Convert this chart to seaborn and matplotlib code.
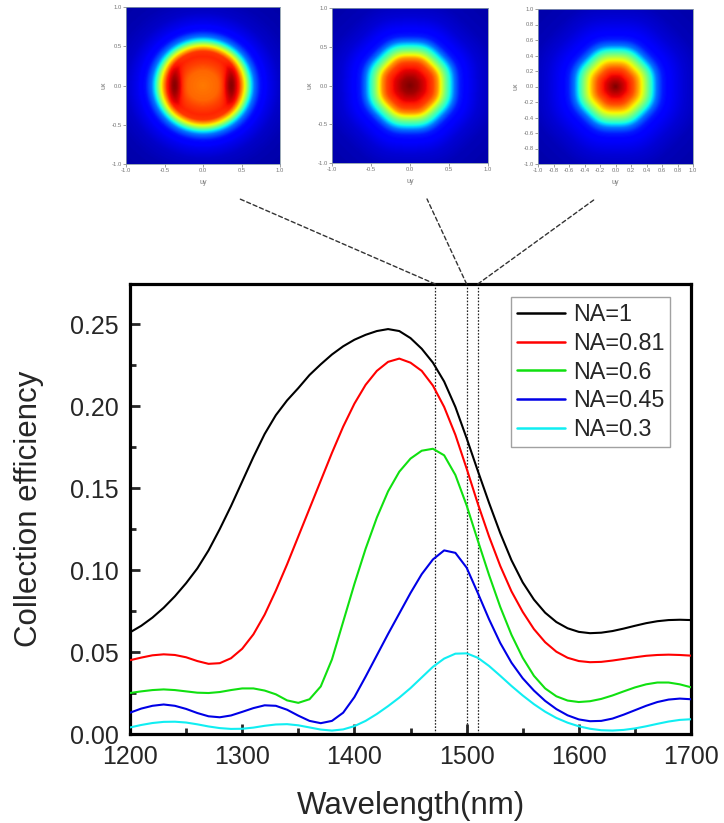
import numpy as np
import pandas as pd
import matplotlib
matplotlib.use("Agg")
import matplotlib.pyplot as plt
import seaborn as sns
from matplotlib.patches import ConnectionPatch
from matplotlib.ticker import MultipleLocator, FormatStrFormatter

# ---- collection efficiency spectra ----
wavelength = list(range(1200, 1701, 10))

ce_na_1 = [0.062, 0.066, 0.071, 0.077, 0.084, 0.092, 0.101, 0.112, 0.125, 0.139,
           0.154, 0.169, 0.183, 0.1945, 0.2035, 0.211, 0.219, 0.2255, 0.2315, 0.2365,
           0.2405, 0.2435, 0.2458, 0.247, 0.2458, 0.2415, 0.235, 0.2265, 0.215, 0.1995,
           0.1805, 0.1605, 0.141, 0.1225, 0.106, 0.0925, 0.082, 0.074, 0.0683, 0.0645,
           0.0623, 0.0615, 0.0618, 0.0628, 0.0643, 0.066, 0.0676, 0.0688, 0.0695, 0.0697,
           0.0695]
ce_na_081 = [0.045, 0.0466, 0.048, 0.0486, 0.0482, 0.0468, 0.0445, 0.0428, 0.0432, 0.0462,
             0.052, 0.0608, 0.0728, 0.0875, 0.1035, 0.1205, 0.1375, 0.1545, 0.1715, 0.1875,
             0.2015, 0.213, 0.2215, 0.227, 0.229, 0.2265, 0.2215, 0.2125, 0.1995, 0.1825,
             0.162, 0.1405, 0.1205, 0.1025, 0.087, 0.0745, 0.064, 0.056, 0.0502, 0.0465,
             0.0445, 0.0438, 0.044, 0.0448, 0.0458, 0.0468, 0.0477, 0.0482, 0.0484, 0.0482,
             0.0478]
ce_na_06 = [0.025, 0.026, 0.0268, 0.0272, 0.0268, 0.026, 0.0252, 0.025, 0.0256, 0.0268,
            0.0278, 0.0278, 0.0265, 0.0242, 0.0205, 0.019, 0.0212, 0.029, 0.0455, 0.0685,
            0.0915, 0.113, 0.132, 0.148, 0.16, 0.168, 0.1728, 0.174, 0.17, 0.158,
            0.1395, 0.118, 0.097, 0.0775, 0.0605, 0.0465, 0.0355, 0.0278, 0.023, 0.0204,
            0.0195, 0.02, 0.0214, 0.0235, 0.026, 0.0284, 0.0303, 0.0314, 0.0314, 0.0303,
            0.0285]
ce_na_045 = [0.013, 0.0155, 0.0172, 0.018, 0.0172, 0.0153, 0.0128, 0.0108, 0.0102, 0.0113,
             0.0135, 0.0158, 0.0175, 0.0172, 0.0148, 0.0112, 0.008, 0.0066, 0.008, 0.013,
             0.0225, 0.035, 0.048, 0.061, 0.0735, 0.086, 0.0975, 0.1065, 0.112, 0.1105,
             0.1015, 0.086, 0.07, 0.0555, 0.0435, 0.034, 0.0265, 0.0202, 0.0152, 0.0114,
             0.0089, 0.0078, 0.008, 0.0094, 0.0118, 0.0145, 0.0172, 0.0195, 0.021, 0.0216,
             0.0212]
ce_na_03 = [0.004, 0.0055, 0.0067, 0.0074, 0.0075, 0.007, 0.0059, 0.0046, 0.0036, 0.0031,
            0.0032, 0.0039, 0.005, 0.0058, 0.006, 0.0053, 0.004, 0.0027, 0.0021, 0.0028,
            0.0048, 0.008, 0.0122, 0.017, 0.0222, 0.028, 0.0345, 0.041, 0.046, 0.049,
            0.0492, 0.0465, 0.0415, 0.0355, 0.0293, 0.0235, 0.0182, 0.0136, 0.0098, 0.0069,
            0.0047, 0.0032, 0.0023, 0.0021, 0.0025, 0.0034, 0.0047, 0.0062, 0.0076, 0.0086,
            0.009]

series_labels = ["NA=1", "NA=0.81", "NA=0.6", "NA=0.45", "NA=0.3"]
series_values = [ce_na_1, ce_na_081, ce_na_06, ce_na_045, ce_na_03]
series_colors = ["#000000", "#ff0000", "#10e010", "#0000e6", "#10eef2"]

# wavelengths whose far-field patterns are shown above the spectrum
pattern_wavelengths = [1472, 1500, 1510]

# ---- far-field intensity patterns (radial profiles, normalised) ----
p1_radius = [0.0, 0.2, 0.3, 0.4, 0.47, 0.52, 0.57, 0.62, 0.67, 0.75, 0.85, 1.0, 1.2, 1.5]
p1_level = [0.78, 0.80, 0.84, 0.87, 0.85, 0.72, 0.56, 0.38, 0.24, 0.14, 0.10, 0.065, 0.045, 0.035]
p2_radius = [0.0, 0.1, 0.2, 0.3, 0.36, 0.41, 0.46, 0.52, 0.58, 0.65, 0.75, 0.9, 1.1, 1.5]
p2_level = [1.0, 0.97, 0.91, 0.84, 0.75, 0.62, 0.50, 0.38, 0.24, 0.15, 0.11, 0.075, 0.05, 0.035]
p3_radius = [0.0, 0.08, 0.16, 0.24, 0.3, 0.36, 0.42, 0.48, 0.54, 0.62, 0.72, 0.9, 1.1, 1.5]
p3_level = [1.0, 0.95, 0.89, 0.82, 0.73, 0.62, 0.50, 0.38, 0.24, 0.15, 0.11, 0.075, 0.05, 0.035]

p1_ticks = [-1.0, -0.5, 0.0, 0.5, 1.0]
p2_ticks = [-1.0, -0.5, 0.0, 0.5, 1.0]
p3_ticks = [-1.0, -0.8, -0.6, -0.4, -0.2, 0.0, 0.2, 0.4, 0.6, 0.8, 1.0]

sns.set_style("ticks")
plt.rcParams["font.family"] = ["Liberation Sans", "DejaVu Sans"]

W, H = 724, 823
fig = plt.figure(figsize=(W / 100, H / 100), dpi=100)


def fig_rect(x0, y0, w, h):
    return [x0 / W, 1 - (y0 + h) / H, w / W, h / H]


# ---- main spectrum ----
ax = fig.add_axes(fig_rect(130, 284, 561, 450))

df = pd.concat(
    [pd.DataFrame({"wavelength": wavelength, "ce": vals, "NA": lab})
     for lab, vals in zip(series_labels, series_values)],
    ignore_index=True,
)
sns.lineplot(data=df, x="wavelength", y="ce", hue="NA", hue_order=series_labels,
             palette=dict(zip(series_labels, series_colors)), lw=1.5, ax=ax, zorder=3)

ymax = 0.2745
ax.set_xlim(1200, 1700)
ax.set_ylim(0, ymax)

for wl in pattern_wavelengths:
    ax.axvline(wl, color="#222222", lw=0.9, ls=(0, (1.3, 1.3)), zorder=2)

ax.xaxis.set_major_locator(MultipleLocator(100))
ax.xaxis.set_minor_locator(MultipleLocator(50))
ax.yaxis.set_major_locator(MultipleLocator(0.05))
ax.yaxis.set_minor_locator(MultipleLocator(0.025))
ax.yaxis.set_major_formatter(FormatStrFormatter("%.2f"))
ax.tick_params(which="major", direction="in", length=7, width=2.0,
               labelsize=18, pad=8, top=False, right=False)
ax.tick_params(which="minor", direction="in", length=4, width=2.0,
               top=False, right=False)
for sp in ax.spines.values():
    sp.set_linewidth(2.3)
    sp.set_color("black")

ax.set_xlabel("Wavelength(nm)", fontsize=22.5, labelpad=16)
ax.set_ylabel("Collection efficiency", fontsize=22.5, labelpad=19)

handles, labels = ax.get_legend_handles_labels()
leg = ax.legend(handles, labels, loc="upper right", bbox_to_anchor=(0.9626, 0.971),
                borderaxespad=0, fontsize=16.8, handlelength=2.05, handletextpad=0.35,
                labelspacing=0.25, borderpad=0.25, fancybox=False, frameon=True)
leg.get_frame().set_edgecolor("#8a8a8a")
leg.get_frame().set_linewidth(1.0)
for h in leg.get_lines():
    h.set_linewidth(1.8)

# ---- far-field insets ----
grid = np.linspace(-1, 1, 241)
UY, UX = np.meshgrid(grid, grid)


def pattern_1():
    r = np.sqrt(UY ** 2 + (UX * 1.07) ** 2)
    img = np.interp(r, p1_radius, p1_level)
    lobes = (np.exp(-((UY - 0.36) ** 2) / (2 * 0.06 ** 2) - UX ** 2 / (2 * 0.15 ** 2))
             + np.exp(-((UY + 0.36) ** 2) / (2 * 0.06 ** 2) - UX ** 2 / (2 * 0.15 ** 2)))
    return np.clip(img + 0.13 * lobes, 0, 1)


def pattern_round(radius, level):
    r = np.sqrt(UY ** 2 + UX ** 2)
    ang = np.arctan2(UX, UY)
    r = r * (1 + 0.012 * np.cos(8 * ang))
    return np.interp(r, radius, level)


insets = [
    (fig_rect(126, 7, 154, 157), pattern_1(), p1_ticks, (0.740, -0.223)),
    (fig_rect(332, 8, 156, 155), pattern_round(p2_radius, p2_level), p2_ticks, (0.609, -0.232)),
    (fig_rect(538, 9, 155, 155), pattern_round(p3_radius, p3_level), p3_ticks, (0.368, -0.226)),
]

for (rect, img, ticks, anchor), wl in zip(insets, pattern_wavelengths):
    axi = fig.add_axes(rect)
    axi.imshow(img, extent=[-1, 1, -1, 1], origin="lower", cmap="jet",
               vmin=0, vmax=1, aspect="auto", interpolation="bilinear")
    axi.set_xticks(ticks)
    axi.set_yticks(ticks)
    axi.xaxis.set_major_formatter(FormatStrFormatter("%.1f"))
    axi.yaxis.set_major_formatter(FormatStrFormatter("%.1f"))
    axi.tick_params(direction="out", length=2, width=0.5, labelsize=4.2,
                    colors="#777777", pad=1)
    for sp in axi.spines.values():
        sp.set_linewidth(0.6)
        sp.set_color("#8899aa")
    axi.set_xlabel("uy", fontsize=5, color="#777777", labelpad=4)
    axi.set_ylabel("ux", fontsize=5, color="#777777", labelpad=3)

    con = ConnectionPatch(xyA=(wl, ymax), coordsA=ax.transData,
                          xyB=anchor, coordsB=axi.transAxes,
                          color="#333333", lw=1.0, ls=(0, (3, 2)))
    fig.add_artist(con)

fig.savefig("out.png", dpi=100)
